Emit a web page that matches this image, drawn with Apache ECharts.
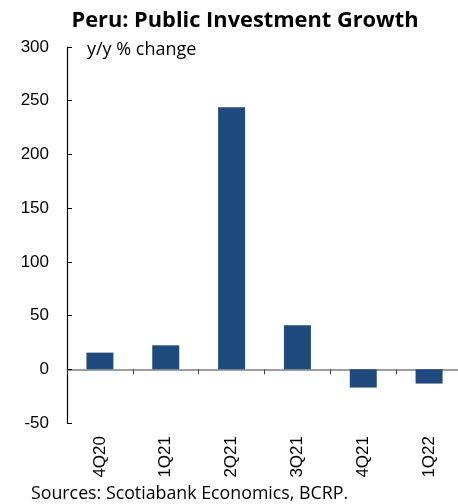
<!DOCTYPE html>
<html><head><meta charset="utf-8">
<script src="https://cdn.jsdelivr.net/npm/echarts@6/dist/echarts.min.js"></script>
<style>html,body{margin:0;padding:0;background:#fff}#c{width:458px;height:504px}</style>
</head><body><div id="c"></div>
<script>
const categories = ['4Q20','1Q21','2Q21','3Q21','4Q21','1Q22'];
const growth = [15.5, 22.3, 244, 41, -17, -13.3];
const yTicks = {min:-50, max:300, interval:50};

const chart = echarts.init(document.getElementById('c'), null, {renderer:'canvas'});
chart.setOption({
  animation:false,
  backgroundColor:'#fff',
  title:{text:'Peru: Public Investment Growth', left:240, top:5, textAlign:'center',
    textStyle:{fontFamily:'Open Sans', fontWeight:'bold', fontSize:21.8, color:'#000'}},
  graphic:[
    {type:'text', left:87, top:41, style:{text:'y/y % change', font:'18px "Open Sans"', fill:'#000'}},
    {type:'text', left:31, top:485, style:{text:'Sources: Scotiabank Economics, BCRP.', font:'17.8px "Open Sans"', fill:'#000'}}
  ],
  grid:{left:67, right:-4, top:47, bottom:81, containLabel:false, outerBoundsMode:'none'},
  xAxis:{type:'category', data:categories,
    axisLine:{onZero:true, lineStyle:{color:'#808080', width:1.5}},
    axisTick:{show:true, length:5, alignWithLabel:false, lineStyle:{color:'#404040'}},
    axisLabel:{rotate:90, margin:13, fontFamily:'Liberation Sans', fontSize:17, color:'#000'},
    splitLine:{show:false}},
  yAxis:{type:'value', min:yTicks.min, max:yTicks.max, interval:yTicks.interval,
    axisLine:{show:true, lineStyle:{color:'#000', width:1.2}},
    axisTick:{show:true, inside:true, length:5, lineStyle:{color:'#000'}},
    axisLabel:{fontFamily:'Liberation Sans', fontSize:17, color:'#000', margin:18},
    splitLine:{show:false}},
  series:[{type:'bar', data:growth, barWidth:27,
    itemStyle:{color:'#1F4A7E'}}]
});
</script></body></html>
